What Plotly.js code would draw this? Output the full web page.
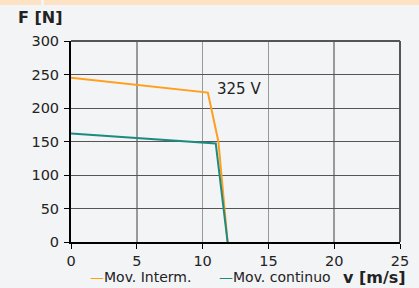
<!DOCTYPE html>
<html><head><meta charset="utf-8">
<script src="https://cdn.plot.ly/plotly-3.0.1.min.js"></script>
<style>
html,body{margin:0;padding:0;background:#f3f4f6;width:419px;height:288px;overflow:hidden}
#band1{position:absolute;left:0;top:0;width:41px;height:5px;background:#fde3c4}
#band2{position:absolute;left:44px;top:0;width:375px;height:5px;background:#fde3c4}
#chart{position:absolute;left:0;top:0;width:419px;height:288px}
</style></head>
<body>
<div id="band1"></div><div id="band2"></div>
<div id="chart"></div>
<script>
// Data
const intermV = [0, 10.4, 11.2, 11.9];
const intermF = [245, 223, 150, 0];
const contV = [0, 11.0, 11.9];
const contF = [162, 147, 0];
const seriesNames = ["Mov. Interm.", "Mov. continuo"];
const xTicks = [0, 5, 10, 15, 20, 25];
const yTicks = [0, 50, 100, 150, 200, 250, 300];
const voltageLabel = "325 V";

const orange = "#ff9f1c";
const teal = "#1e8a80";
const font = "DejaVu Sans";

const traces = [
  {x: intermV, y: intermF, mode: "lines", name: seriesNames[0], line: {color: orange, width: 2}},
  {x: contV, y: contF, mode: "lines", name: seriesNames[1], line: {color: teal, width: 2}}
];

const layout = {
  width: 419, height: 288,
  margin: {l: 71, r: 19, t: 41, b: 46, pad: 0},
  paper_bgcolor: "rgba(0,0,0,0)",
  plot_bgcolor: "#f3f4f6",
  showlegend: false,
  font: {family: font, size: 14, color: "#222"},
  xaxis: {range: [0, 25], tickvals: xTicks, ticktext: xTicks.map(String),
    showgrid: true, gridcolor: "#999", gridwidth: 1.5, zeroline: false,
    showline: true, linecolor: "#000", linewidth: 2,
    ticks: "outside", ticklen: 5, tickcolor: "#000", tickwidth: 1,
    tickfont: {size: 14.5, family: font, color: "#222"}, fixedrange: true},
  yaxis: {range: [0, 300], tickvals: yTicks, ticktext: yTicks.map(String),
    showgrid: true, gridcolor: "#555", gridwidth: 1, zeroline: false,
    showline: true, linecolor: "#000", linewidth: 2,
    ticks: "outside", ticklen: 5, tickcolor: "#000", tickwidth: 1,
    ticklabelstandoff: 2,
    tickfont: {size: 14.5, family: font, color: "#222"}, fixedrange: true},
  shapes: [
    {type: "line", xref: "paper", yref: "paper", x0: 0, x1: 1, y0: 1, y1: 1, line: {color: "#555", width: 2}},
    {type: "line", xref: "paper", yref: "paper", x0: 1, x1: 1, y0: 0, y1: 1, line: {color: "#555", width: 2}}
  ],
  annotations: [
    {text: voltageLabel, x: 10.95, y: 229, xref: "x", yref: "y", xanchor: "left", yanchor: "middle",
     showarrow: false, font: {size: 15, family: font, color: "#222"}},
    {text: "<b>F [N]</b>", x: 40, y: 18, showarrow: false,
     xanchor: "center", yanchor: "middle", font: {size: 16, family: font, color: "#222"}},
    {text: "<b>v [m/s]</b>", x: 408, y: 277, showarrow: false,
     xanchor: "right", yanchor: "middle", font: {size: 16, family: font, color: "#222"}},
    {text: '<span style="color:' + orange + '">—</span>' + seriesNames[0], x: 88, y: 277,
     showarrow: false, xanchor: "left", yanchor: "middle", font: {size: 14, family: font, color: "#222"}},
    {text: '<span style="color:' + teal + '">—</span>' + seriesNames[1], x: 217, y: 277,
     showarrow: false, xanchor: "left", yanchor: "middle", font: {size: 14, family: font, color: "#222"}}
  ]
};
// convert pixel-positioned annotations to paper coords
const pw = 419 - 71 - 19, ph = 288 - 41 - 46;
layout.annotations.forEach((a, i) => {
  if (i >= 1) {
    a.xref = "paper"; a.yref = "paper";
    a.x = (a.x - 71) / pw; a.y = (242 - a.y) / ph;
  }
});
Plotly.newPlot("chart", traces, layout, {staticPlot: true, displayModeBar: false});
</script>
</body></html>
